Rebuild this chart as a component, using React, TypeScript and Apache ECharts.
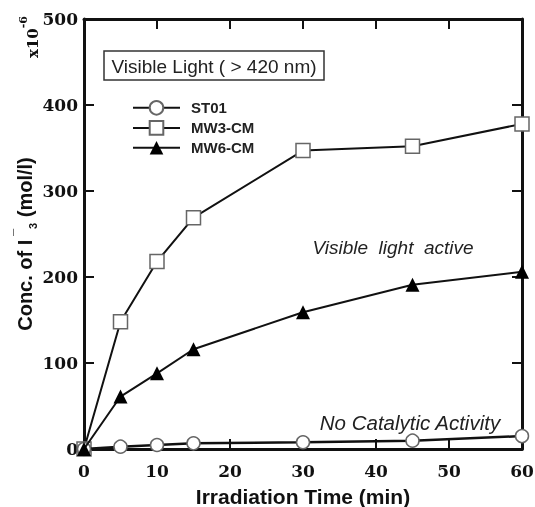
import React, { useEffect, useRef } from "react";
import * as echarts from "echarts";

const timeMin = [0, 5, 10, 15, 30, 45, 60];
const st01 = [0, 2.7, 4.6, 6.6, 7.8, 9.7, 15];
const mw3cm = [0, 148, 218, 269, 347, 352, 378];
const mw6cm = [0, 61, 88, 116, 159, 191, 206];
const xTicks = [0, 10, 20, 30, 40, 50, 60];
const yTicks = [0, 100, 200, 300, 400, 500];

const pair = (ys: number[]) => timeMin.map((t, i) => [t, ys[i]]);

export default function App() {
  const ref = useRef<HTMLDivElement>(null);
  useEffect(() => {
    if (!ref.current) return;
    const chart = echarts.init(ref.current, null, { renderer: "svg" });
    const tickFont = { fontFamily: "DejaVu Serif", fontWeight: "bold" as const, fontSize: 17, color: "#111" };
    const axisCommon = {
      axisLine: { show: true, onZero: false, lineStyle: { color: "#111", width: 3 } },
      axisTick: { show: true, inside: true, length: 10, lineStyle: { color: "#111", width: 2 } },
      splitLine: { show: false },
    };
    const option: any = {
      animation: false,
      grid: { left: 84, top: 19, right: 13, bottom: 58, outerBoundsMode: "none", containLabel: false },
      xAxis: [
        {
          type: "value", position: "bottom", min: xTicks[0], max: xTicks[xTicks.length - 1], interval: 10,
          ...axisCommon,
          axisLabel: { ...tickFont, margin: 13 },
          name: "Irradiation Time (min)", nameLocation: "middle", nameGap: 37,
          nameTextStyle: { fontFamily: "Liberation Sans", fontWeight: "bold", fontSize: 21, color: "#111" },
        },
        {
          type: "value", position: "top", min: xTicks[0], max: xTicks[xTicks.length - 1], interval: 10,
          ...axisCommon, axisLabel: { show: false },
        },
      ],
      yAxis: [
        {
          type: "value", position: "left", min: yTicks[0], max: yTicks[yTicks.length - 1], interval: 100,
          ...axisCommon,
          axisLabel: { ...tickFont, margin: 6 },
        },
        {
          type: "value", position: "right", min: yTicks[0], max: yTicks[yTicks.length - 1], interval: 100,
          ...axisCommon, axisLabel: { show: false },
        },
      ],
      legend: {
        orient: "vertical", left: 127, top: 95, itemWidth: 47, itemHeight: 17, itemGap: 4.5,
        textStyle: { fontFamily: "Liberation Sans", fontWeight: "bold", fontSize: 15, color: "#222", padding: [0, 0, 0, 6] },
        data: ["ST01", "MW3-CM", "MW6-CM"],
      },
      series: [
        {
          name: "ST01", type: "line", data: pair(st01), symbol: "circle", symbolSize: 13,
          lineStyle: { color: "#111", width: 2.5 },
          itemStyle: { color: "#fff", borderColor: "#666", borderWidth: 1.5 },
          z: 3,
        },
        {
          name: "MW3-CM", type: "line", data: pair(mw3cm), symbol: "rect", symbolSize: 14,
          lineStyle: { color: "#111", width: 2 },
          itemStyle: { color: "#fff", borderColor: "#666", borderWidth: 1.5 },
          z: 2,
        },
        {
          name: "MW6-CM", type: "line", data: pair(mw6cm), symbol: "triangle", symbolSize: 14,
          lineStyle: { color: "#111", width: 2 },
          itemStyle: { color: "#000", borderColor: "#000", borderWidth: 0 },
          z: 4,
        },
      ],
      graphic: [
        {
          type: "rect", shape: { x: 104, y: 51, width: 220, height: 29 },
          style: { fill: "#fff", stroke: "#333", lineWidth: 1.5 },
        },
        {
          type: "text", x: 214, y: 66,
          style: { text: "Visible Light ( > 420 nm)", fontFamily: "Liberation Sans", fontSize: 19, fill: "#222", align: "center", verticalAlign: "middle" },
        },
        {
          type: "text", x: 393, y: 247,
          style: { text: "Visible  light  active", fontFamily: "Liberation Sans", fontStyle: "italic", fontSize: 19, fill: "#222", align: "center", verticalAlign: "middle" },
        },
        {
          type: "text", x: 410, y: 422,
          style: { text: "No Catalytic Activity", fontFamily: "Liberation Sans", fontStyle: "italic", fontSize: 20.5, fill: "#222", align: "center", verticalAlign: "middle" },
        },
        {
          type: "text", x: 25, y: 244, rotation: Math.PI / 2,
          style: {
            text: "{a|Conc. of I}{sup| ¯}{sub|3}{a| (mol/l)}",
            align: "center", verticalAlign: "middle",
            rich: {
              a: { fontFamily: "Liberation Sans", fontWeight: "bold", fontSize: 20, fill: "#111", lineHeight: 26, verticalAlign: "middle" },
              sup: { fontFamily: "Liberation Sans", fontWeight: "bold", fontSize: 13, fill: "#111", lineHeight: 26, verticalAlign: "top" },
              sub: { fontFamily: "Liberation Sans", fontWeight: "bold", fontSize: 11, fill: "#111", lineHeight: 26, verticalAlign: "bottom" },
            },
          },
        },
        {
          type: "text", x: 29, y: 37, rotation: Math.PI / 2,
          style: {
            text: "{b|x10}{s|-6}",
            align: "center", verticalAlign: "middle",
            rich: {
              b: { fontFamily: "DejaVu Serif", fontWeight: "bold", fontSize: 15, fill: "#111", lineHeight: 22, verticalAlign: "bottom" },
              s: { fontFamily: "DejaVu Serif", fontWeight: "bold", fontSize: 11, fill: "#111", lineHeight: 22, verticalAlign: "top" },
            },
          },
        },
      ],
    };
    chart.setOption(option);
    return () => chart.dispose();
  }, []);
  return <div ref={ref} style={{ position: "fixed", left: 0, top: 0, width: 535, height: 507 }} />;
}
